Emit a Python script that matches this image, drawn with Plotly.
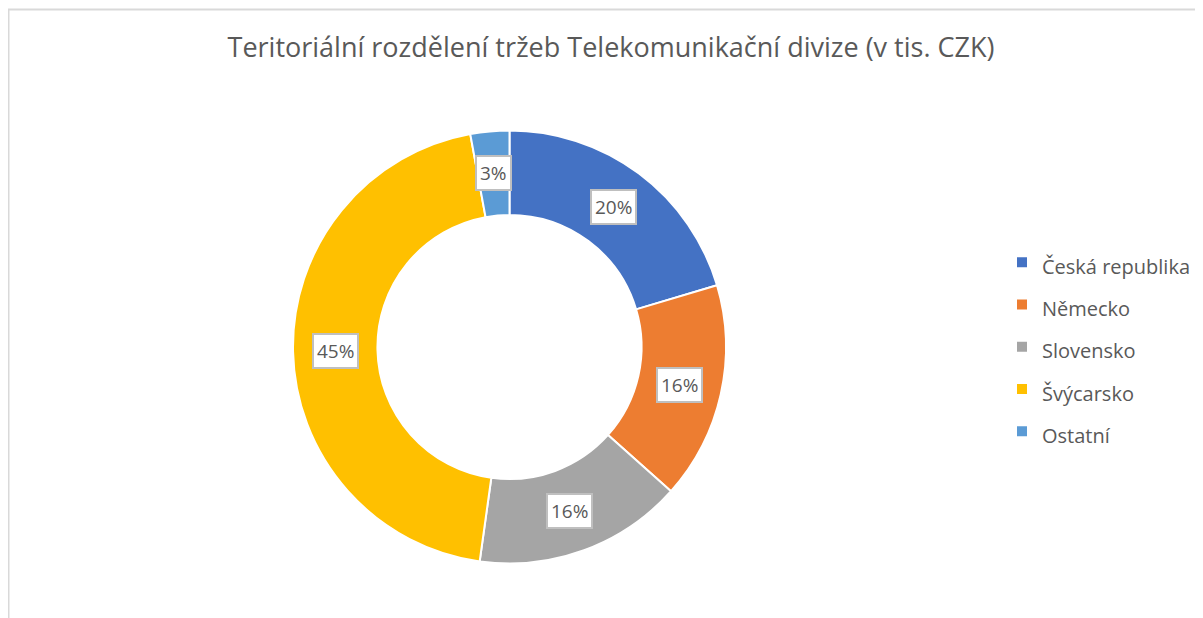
import math
import plotly.graph_objects as go

W, H = 1203, 618
OFF = 8  # page body margin: figure is drawn 8px right/down of the window origin

title_text = "Teritoriální rozdělení tržeb Telekomunikační divize (v tis. CZK)"
categories = ["Česká republika", "Německo", "Slovensko", "Švýcarsko", "Ostatní"]
values = [20.4, 16.2, 15.6, 44.9, 2.9]
colors = ["#4472C4", "#ED7D31", "#A5A5A5", "#FFC000", "#5B9BD5"]

FONT = "Open Sans"
TEXT_COLOR = "#595959"


def px(x):
    return (x - OFF) / W


def py(y):
    return 1 - (y - OFF) / H


hole = 0.61
dom_x = [px(293), px(726)]
dom_y = [py(563.5), py(130.5)]

legend_labels = ['<span style="font-size:20px">%s</span>' % c for c in categories]

fig = go.Figure()
fig.add_trace(go.Pie(
    labels=legend_labels,
    values=values,
    marker=dict(colors=colors, line=dict(color="white", width=2)),
    hole=hole,
    sort=False,
    direction="clockwise",
    rotation=0,
    textinfo="none",
    hoverinfo="label+value+percent",
    domain=dict(x=dom_x, y=dom_y),
))

# data labels (boxed), placed at the middle of each ring segment
total = sum(values)
cx = (dom_x[0] + dom_x[1]) / 2
cy = (dom_y[0] + dom_y[1]) / 2
R_px = min((dom_x[1] - dom_x[0]) * W, (dom_y[1] - dom_y[0]) * H) / 2
r_mid = R_px * (1 + hole) / 2
annotations = []
cum = 0.0
for v in values:
    m = (cum + v / 2) / total
    cum += v
    th = 2 * math.pi * m
    ax = cx + r_mid * math.sin(th) / W
    ay = cy + r_mid * math.cos(th) / H
    annotations.append(dict(
        x=ax, y=ay, xref="paper", yref="paper", showarrow=False,
        text="%d%%" % round(100 * v / total),
        font=dict(family=FONT, size=19, color=TEXT_COLOR),
        bgcolor="white", bordercolor="#BFBFBF", borderwidth=2, borderpad=3,
        xanchor="center", yanchor="middle",
    ))

fig.update_layout(
    width=W, height=H,
    margin=dict(l=0, r=0, t=0, b=0),
    paper_bgcolor="white",
    plot_bgcolor="white",
    font=dict(family=FONT, color=TEXT_COLOR),
    title=dict(
        text=title_text, x=px(611), xanchor="center", y=py(48), yanchor="middle",
        xref="paper", yref="paper",
        font=dict(family=FONT, size=27, color=TEXT_COLOR),
    ),
    showlegend=True,
    legend=dict(
        x=px(1002), xanchor="left", y=py(236), yanchor="top",
        font=dict(family=FONT, size=30.2, color=TEXT_COLOR),
        bgcolor="rgba(0,0,0,0)", tracegroupgap=0,
    ),
    annotations=annotations,
    shapes=[dict(
        type="rect", xref="paper", yref="paper",
        x0=px(8.5), x1=1.2, y0=-0.2, y1=py(9.5),
        line=dict(color="#D9D9D9", width=2), fillcolor="rgba(0,0,0,0)", layer="below",
    )],
)

fig.write_html("out.html")
